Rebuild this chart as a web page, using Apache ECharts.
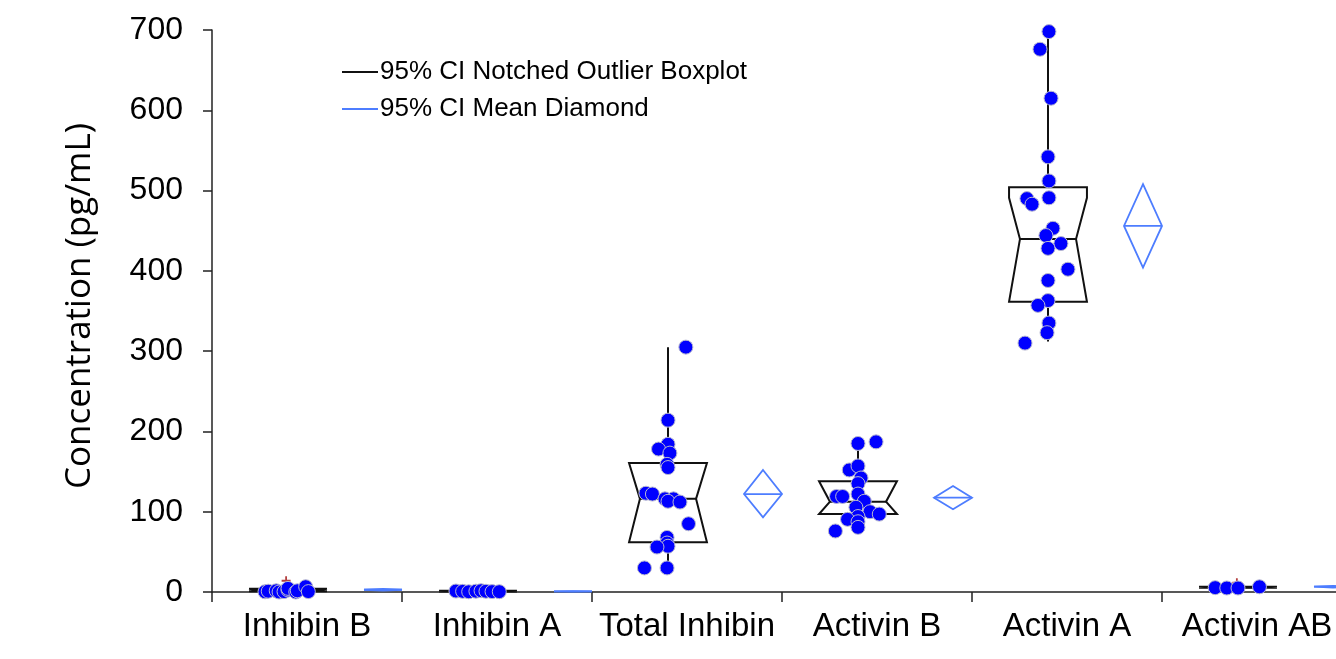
<!DOCTYPE html>
<html>
<head>
<meta charset="utf-8">
<script src="https://cdn.jsdelivr.net/npm/echarts@6/dist/echarts.min.js"></script>
<style>
html,body{margin:0;padding:0;background:#fff;overflow:hidden;width:1336px;height:659px;}
#chart{width:1352px;height:659px;}
</style>
</head>
<body>
<div id="chart"></div>
<script>
// ---------- data ----------
const categories = ['Inhibin B', 'Inhibin A', 'Total Inhibin', 'Activin B', 'Activin A', 'Activin AB'];
const yTicks = [0, 100, 200, 300, 400, 500, 600, 700];

// notched boxplot statistics
const boxMin    = [0,   0.2, 30,    76,  312,   4.8];
const boxQ1     = [0.8, 0.5, 62,    97,  361.5, 5.2];
const boxMedian = [2,   1,   116,   112.5, 439.6, 5.8];
const boxQ3     = [4,   1.5, 160.6, 138, 504,   6.5];
const boxMax    = [7,   2,   305,   185, 698,   7];
const notchLo   = [0.8, 0.5, 62,    97,  361.5, 5.2];
const notchHi   = [4,   1.5, 160.6, 138, 491,   6.5];

// 95% CI mean diamonds
const meanVal = [2.8, 0.8, 122, 117.5, 456, 6.6];
const meanLo  = [1.8, 0.4, 93,  103,   404, 5.6];
const meanHi  = [3.8, 1.2, 152, 132,   508, 7.6];

// individual observations (values) and their horizontal jitter (fraction of a category)
const obsInhibinB = [0.3, 1, 1.5, 0, 0.5, 2.5, 4.5, 0, 1.5, 6.6, 0.5];
const jitInhibinB = [-0.121, -0.104, -0.062, -0.047, -0.021, 0, 0, 0.041, 0.049, 0.093, 0.107];
const obsInhibinA = [1.2, 0.8, 0.3, 1, 1.6, 0.9, 0.5, 0.4];
const jitInhibinA = [-0.116, -0.081, -0.049, -0.011, 0.016, 0.042, 0.074, 0.112];
const obsTotalInhibin = [305, 214, 184, 178, 173, 159, 155, 123, 122, 116, 116, 113, 112, 85, 68, 61, 57, 56, 30, 30];
const jitTotalInhibin = [0.094, 0, 0, -0.05, 0.01, -0.005, 0, -0.116, -0.082, -0.016, 0.029, 0, 0.063, 0.108, -0.005, -0.005, 0, -0.058, -0.124, -0.005];
const obsActivinB = [185, 187, 152, 157, 142, 135, 119, 119, 122, 113, 105.5, 100, 97, 94, 90.5, 87.5, 80.5, 76];
const jitActivinB = [0, 0.095, -0.046, 0, 0.016, 0, -0.113, -0.081, 0, 0.033, -0.011, 0.063, 0.112, 0, -0.055, 0, 0, -0.119];
const obsActivinA = [698, 676, 615, 542, 512, 491, 490, 483, 453, 444, 434, 428, 402, 388, 363, 357, 335, 323, 310];
const jitActivinA = [0.005, -0.042, 0.016, 0, 0.005, 0.005, -0.111, -0.084, 0.026, -0.011, 0.068, 0, 0.105, 0, 0, -0.053, 0.005, -0.005, -0.121];
const obsActivinAB = [5.4, 5, 5, 6.5];
const jitActivinAB = [-0.12, -0.059, 0, 0.113];

// far outliers (dark red plus)
const outlierCat = [0, 5];
const outlierVal = [14, 11.5];
const outlierJit = [-0.01, -0.006];

// ---------- layout constants ----------
const BOX_POS = 0.4;       // box centre inside category (0..1)
const DIA_POS = 0.9;       // diamond centre inside category
const BOX_W = 0.41;
const DIA_W = 0.2;
const NOTCH_RATIO = 0.72;
const BLUE_LINE = '#4d7dff';

const observations = [
  [obsInhibinB, jitInhibinB], [obsInhibinA, jitInhibinA], [obsTotalInhibin, jitTotalInhibin],
  [obsActivinB, jitActivinB], [obsActivinA, jitActivinA], [obsActivinAB, jitActivinAB]
];
const pointData = [];
observations.forEach(function (pair, ci) {
  pair[0].forEach(function (v, i) { pointData.push([ci + BOX_POS + pair[1][i], v]); });
});
const boxData = categories.map(function (c, i) {
  return [i + BOX_POS, boxMin[i], boxQ1[i], boxMedian[i], boxQ3[i], boxMax[i], notchLo[i], notchHi[i]];
});
const diaData = categories.map(function (c, i) { return [i + DIA_POS, meanVal[i], meanLo[i], meanHi[i]]; });
const outData = outlierCat.map(function (c, i) { return [c + BOX_POS + outlierJit[i], outlierVal[i]]; });

function renderBox(params, api) {
  const x = api.value(0);
  const y = function (v) { return api.coord([x, v])[1]; };
  const cx = api.coord([x, api.value(3)])[0];
  const half = api.size([BOX_W, 0])[0] / 2;
  const inner = half * NOTCH_RATIO;
  const yMin = y(api.value(1)), yQ1 = y(api.value(2)), yMed = y(api.value(3)),
        yQ3 = y(api.value(4)), yMax = y(api.value(5)), yNLo = y(api.value(6)), yNHi = y(api.value(7));
  const st = { stroke: '#111', lineWidth: 2, fill: null };
  return {
    type: 'group',
    children: [
      { type: 'line', shape: { x1: cx, y1: yQ3, x2: cx, y2: yMax }, style: st },
      { type: 'line', shape: { x1: cx, y1: yQ1, x2: cx, y2: yMin }, style: st },
      { type: 'polygon', shape: { points: [
          [cx - half, yQ3], [cx + half, yQ3], [cx + half, yNHi], [cx + inner, yMed],
          [cx + half, yNLo], [cx + half, yQ1], [cx - half, yQ1], [cx - half, yNLo],
          [cx - inner, yMed], [cx - half, yNHi]
        ] }, style: { stroke: '#111', lineWidth: 2, fill: 'rgba(255,255,255,0)' } },
      { type: 'line', shape: { x1: cx - inner, y1: yMed, x2: cx + inner, y2: yMed }, style: st }
    ]
  };
}

function renderDiamond(params, api) {
  const x = api.value(0);
  const p = api.coord([x, api.value(1)]);
  const yLo = api.coord([x, api.value(2)])[1];
  const yHi = api.coord([x, api.value(3)])[1];
  const half = api.size([DIA_W, 0])[0] / 2;
  const st = { stroke: BLUE_LINE, lineWidth: 1.8, fill: 'rgba(255,255,255,0)' };
  return {
    type: 'group',
    children: [
      { type: 'polygon', shape: { points: [[p[0], yHi], [p[0] + half, p[1]], [p[0], yLo], [p[0] - half, p[1]]] }, style: st },
      { type: 'line', shape: { x1: p[0] - half, y1: p[1], x2: p[0] + half, y2: p[1] }, style: st }
    ]
  };
}

const chart = echarts.init(document.getElementById('chart'), null, { renderer: 'canvas' });
const FONT = '"Liberation Sans", Arial, sans-serif';
chart.setOption({
  animation: false,
  backgroundColor: '#ffffff',
  textStyle: { fontFamily: FONT },
  legend: {
    data: ['95% CI Notched Outlier Boxplot', '95% CI Mean Diamond'],
    orient: 'vertical',
    left: 342,
    top: 59,
    padding: 0,
    itemWidth: 36,
    itemHeight: 2,
    itemGap: 11,
    icon: 'rect',
    selectedMode: false,
    textStyle: { fontFamily: FONT, fontSize: 26, color: '#000', padding: [0, 0, 0, -3] }
  },
  grid: { left: 212, top: 30, bottom: 67, right: 0, containLabel: false },
  xAxis: [
    {
      type: 'category',
      data: categories,
      boundaryGap: true,
      axisLine: { lineStyle: { color: '#222', width: 1.5 } },
      axisTick: { show: true, length: 10, lineStyle: { color: '#222', width: 1.5 } },
      axisLabel: { fontFamily: FONT, fontSize: 33, color: '#000', margin: 18, interval: 0 },
      splitLine: { show: false }
    },
    { type: 'value', min: 0, max: categories.length, show: false }
  ],
  yAxis: {
    type: 'value',
    min: yTicks[0],
    max: yTicks[yTicks.length - 1],
    interval: 100,
    name: 'Concentration (pg/mL)',
    nameLocation: 'middle',
    nameGap: 114,
    nameTextStyle: { fontFamily: '"Open Sans", sans-serif', fontSize: 35, color: '#000', padding: [0, 0, 0, 10] },
    axisLine: { show: true, lineStyle: { color: '#222', width: 1.5 } },
    axisTick: { show: true, length: 9, lineStyle: { color: '#222', width: 1.5 } },
    axisLabel: { fontFamily: FONT, fontSize: 32, color: '#000', margin: 29 },
    splitLine: { show: false }
  },
  series: [
    {
      name: '95% CI Notched Outlier Boxplot',
      type: 'custom',
      xAxisIndex: 1,
      renderItem: renderBox,
      itemStyle: { color: '#111' },
      encode: { x: 0, y: [1, 2, 3, 4, 5] },
      data: boxData,
      z: 2
    },
    {
      name: '95% CI Mean Diamond',
      type: 'custom',
      xAxisIndex: 1,
      renderItem: renderDiamond,
      itemStyle: { color: BLUE_LINE },
      encode: { x: 0, y: [1, 2, 3] },
      data: diaData,
      z: 2
    },
    {
      name: 'observations',
      type: 'scatter',
      xAxisIndex: 1,
      symbolSize: 14,
      itemStyle: { color: '#0000ff', borderColor: '#b8b8d0', borderWidth: 1, opacity: 1 },
      data: pointData,
      z: 4
    },
    {
      name: 'outliers',
      type: 'scatter',
      xAxisIndex: 1,
      symbol: 'path://M4,0h2v4h4v2h-4v4h-2v-4h-4v-2h4z',
      symbolSize: 9,
      itemStyle: { color: '#a01010' },
      data: outData,
      z: 3
    }
  ]
});
</script>
</body>
</html>
